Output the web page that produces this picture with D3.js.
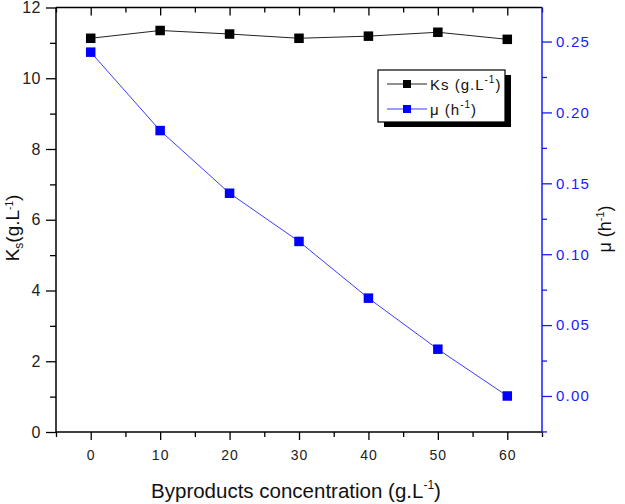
<!DOCTYPE html>
<html>
<head>
<meta charset="utf-8">
<script src="https://cdn.jsdelivr.net/npm/d3@7"></script>
<style>
  body { margin: 0; background: #fff; }
  svg { display: block; font-family: 'Liberation Sans', Arial, sans-serif; }
</style>
</head>
<body>
<div id="chart"></div>
<script>
// data
let concentrations = [0, 10, 20, 30, 40, 50, 60]
let ksValues = [11.13, 11.35, 11.25, 11.13, 11.19, 11.3, 11.1]
let muValues = [0.2425, 0.1872, 0.143, 0.109, 0.069, 0.033, 0.0]

let xTicks = [0, 10, 20, 30, 40, 50, 60]
let xMinor = [-5, 5, 15, 25, 35, 45, 55, 65]
let ksTicks = [0, 2, 4, 6, 8, 10, 12]
let ksMinor = [1, 3, 5, 7, 9, 11]
let muTicks = [0, 0.05, 0.1, 0.15, 0.2, 0.25]
let muMinor = [-0.025, 0.025, 0.075, 0.125, 0.175, 0.225]

let margin = { top: 7.5, left: 56, right: 83, bottom: 72 }
let width = 625 - margin.left - margin.right
let height = 504 - margin.top - margin.bottom

let svg = d3.select('#chart')
  .append('svg')
  .attr('width', 625)
  .attr('height', 504)

let g = svg.append('g')
  .attr('transform', `translate(${margin.left},${margin.top})`)

let x = d3.scaleLinear().domain([-5, 65]).range([0, width])
let yKs = d3.scaleLinear().domain([0, 12]).range([height, 0])
let yMu = d3.scaleLinear().domain([-0.0254, 0.274]).range([height, 0])

function styleAxis(sel, color, fontSize, spacing) {
  sel.select('.domain').remove()
  sel.selectAll('.tick line').attr('stroke', color).attr('stroke-width', 1.3)
  sel.selectAll('.tick text')
    .attr('fill', color === '#000' ? '#222' : color)
    .attr('font-size', fontSize)
    .attr('letter-spacing', spacing)
    .attr('font-family', 'Liberation Sans, Arial, sans-serif')
}

// bottom
g.append('g')
  .attr('transform', `translate(0,${height})`)
  .call(d3.axisBottom(x).tickValues(xTicks).tickSize(8).tickPadding(10))
  .call(styleAxis, '#000', 14, 1)
g.append('g')
  .attr('transform', `translate(0,${height})`)
  .call(d3.axisBottom(x).tickValues(xMinor).tickSize(5).tickFormat(''))
  .call(styleAxis, '#000', 14, 0)

// top (inward ticks)
g.append('g')
  .call(d3.axisTop(x).tickValues(xTicks).tickSize(-8).tickFormat(''))
  .call(styleAxis, '#000', 14, 0)
g.append('g')
  .call(d3.axisTop(x).tickValues(xMinor).tickSize(-5).tickFormat(''))
  .call(styleAxis, '#000', 14, 0)

// left
g.append('g')
  .call(d3.axisLeft(yKs).tickValues(ksTicks).tickSize(10).tickPadding(5))
  .call(styleAxis, '#000', 16, 0.5)
g.append('g')
  .call(d3.axisLeft(yKs).tickValues(ksMinor).tickSize(6).tickFormat(''))
  .call(styleAxis, '#000', 16, 0)

// right
g.append('g')
  .attr('transform', `translate(${width},0)`)
  .call(d3.axisRight(yMu).tickValues(muTicks).tickSize(10).tickPadding(4).tickFormat(d3.format('.2f')))
  .call(styleAxis, '#1a1aff', 15, 1.2)
g.append('g')
  .attr('transform', `translate(${width},0)`)
  .call(d3.axisRight(yMu).tickValues(muMinor.filter(d => d >= -0.0254)).tickSize(5).tickFormat(''))
  .call(styleAxis, '#1a1aff', 15, 0)

// frame
g.append('line').attr('x1', 0).attr('x2', width).attr('y1', 0).attr('y2', 0)
  .attr('stroke', '#000').attr('stroke-width', 1.5)
g.append('line').attr('x1', 0).attr('x2', width).attr('y1', height).attr('y2', height)
  .attr('stroke', '#000').attr('stroke-width', 1.5)
g.append('line').attr('x1', 0).attr('x2', 0).attr('y1', 0).attr('y2', height)
  .attr('stroke', '#000').attr('stroke-width', 1.5)
g.append('line').attr('x1', width).attr('x2', width).attr('y1', 0).attr('y2', height)
  .attr('stroke', '#1a1aff').attr('stroke-width', 1.5)

// series
let ksData = concentrations.map((c, i) => ({ x: c, y: ksValues[i] }))
let muData = concentrations.map((c, i) => ({ x: c, y: muValues[i] }))

g.append('path')
  .datum(ksData)
  .attr('fill', 'none')
  .attr('stroke', '#222')
  .attr('stroke-width', 1)
  .attr('d', d3.line().x(d => x(d.x)).y(d => yKs(d.y)))

g.append('path')
  .datum(muData)
  .attr('fill', 'none')
  .attr('stroke', '#3c3cff')
  .attr('stroke-width', 1)
  .attr('d', d3.line().x(d => x(d.x)).y(d => yMu(d.y)))

let sz = 9.5
g.selectAll('.ks')
  .data(ksData)
  .enter()
  .append('rect')
  .attr('class', 'ks')
  .attr('x', d => x(d.x) - sz / 2)
  .attr('y', d => yKs(d.y) - sz / 2)
  .attr('width', sz)
  .attr('height', sz)
  .attr('fill', '#000')

g.selectAll('.mu')
  .data(muData)
  .enter()
  .append('rect')
  .attr('class', 'mu')
  .attr('x', d => x(d.x) - sz / 2)
  .attr('y', d => yMu(d.y) - sz / 2)
  .attr('width', sz)
  .attr('height', sz)
  .attr('fill', '#0000ff')

// axis titles
function sup(t, size, up) {
  t.append('tspan').attr('dy', -up).attr('font-size', size).text('-1')
  t.append('tspan').attr('dy', up).text(')')
}

let xt = svg.append('text')
  .attr('x', 296)
  .attr('y', 498)
  .attr('text-anchor', 'middle')
  .attr('font-size', 20.5)
  .attr('fill', '#111')
xt.append('tspan').text('Byproducts concentration (g.L')
sup(xt, 12, 9)

let lt = svg.append('text')
  .attr('transform', 'translate(19,228) rotate(-90)')
  .attr('text-anchor', 'middle')
  .attr('font-size', 19)
  .attr('fill', '#111')
lt.append('tspan').text('K')
lt.append('tspan').attr('dy', 4).attr('font-size', 12).text('s')
lt.append('tspan').attr('dy', -4).text('(g.L')
sup(lt, 10, 6)

let rt = svg.append('text')
  .attr('transform', 'translate(611,229) rotate(-90)')
  .attr('text-anchor', 'middle')
  .attr('font-size', 18)
  .attr('fill', '#111')
rt.append('tspan').text('\u03bc (h')
sup(rt, 11, 7)

// legend
let legend = svg.append('g').attr('transform', 'translate(378,70)')
legend.append('rect')
  .attr('x', 6).attr('y', 5)
  .attr('width', 127).attr('height', 52)
  .attr('fill', '#000')
legend.append('rect')
  .attr('width', 127).attr('height', 52)
  .attr('fill', '#fff')
  .attr('stroke', '#000')
  .attr('stroke-width', 1.2)

let legendItems = [
  { label: 'Ks (g.L', line: '#222', mark: '#000' },
  { label: '\u03bc (h', line: '#3c3cff', mark: '#0000ff' }
]
legendItems.forEach((item, i) => {
  let yy = 14 + i * 25
  legend.append('line')
    .attr('x1', 9).attr('x2', 49).attr('y1', yy).attr('y2', yy)
    .attr('stroke', item.line).attr('stroke-width', 1.2)
  legend.append('rect')
    .attr('x', 29 - 4).attr('y', yy - 4)
    .attr('width', 8).attr('height', 8)
    .attr('fill', item.mark)
  let t = legend.append('text')
    .attr('x', 52)
    .attr('y', yy + 5.5)
    .attr('font-size', 15)
    .attr('letter-spacing', 1)
    .attr('fill', '#111')
  t.append('tspan').text(item.label)
  sup(t, 10, 7)
})
</script>
</body>
</html>
